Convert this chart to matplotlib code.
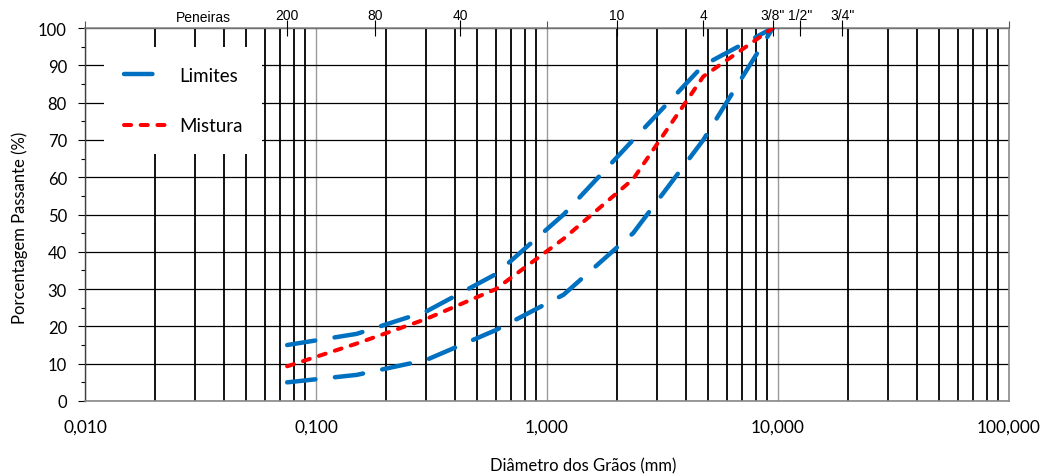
import matplotlib
matplotlib.use('Agg')
import matplotlib.pyplot as plt
from matplotlib.ticker import FixedLocator, NullFormatter, MultipleLocator
import matplotlib.transforms as mtransforms

# ---------------- data ----------------
diametro_mm = [0.075, 0.15, 0.3, 0.6, 1.18, 2.36, 4.75, 9.5]
limite_superior = [15, 18, 24, 34, 50, 70, 90, 100]
limite_inferior = [5, 7, 11, 19, 28.5, 45, 70, 100]
mistura = [9.3, 15.4, 22, 30, 43.5, 59.5, 87, 100]

peneiras_mm = [0.075, 0.18, 0.42, 2.0, 4.75, 9.5, 12.5, 19.0]
peneiras_labels = ['200', '80', '40', '10', '4', '3/8"', '1/2"', '3/4"']

x_ticks = [0.01, 0.1, 1, 10, 100]
x_tick_labels = ['0,010', '0,100', '1,000', '10,000', '100,000']
x_minor = [m * d for d in [0.01, 0.1, 1, 10] for m in range(2, 10)]
y_ticks = list(range(0, 101, 10))

BLUE = '#0070C0'
RED = '#FF0000'
CAL = ['Lato', 'DejaVu Sans']
ARIAL = ['Liberation Sans', 'DejaVu Sans']

fig = plt.figure(figsize=(10.48, 4.77), dpi=100)
ax = fig.add_axes([85/1048, 75/477, 924/1048, 373/477])
ax.set_xscale('log')
ax.set_xlim(0.01, 100)
ax.set_ylim(0, 100)

# grid
ax.xaxis.set_major_locator(FixedLocator(x_ticks))
ax.xaxis.set_minor_locator(FixedLocator(x_minor))
ax.xaxis.set_minor_formatter(NullFormatter())
ax.set_xticklabels(x_tick_labels, fontfamily=CAL, fontsize=12.5)
ax.set_yticks(y_ticks)
ax.yaxis.set_minor_locator(MultipleLocator(5))
ax.set_yticklabels([str(v) for v in y_ticks], fontfamily=CAL, fontsize=12)

ax.grid(True, which='major', axis='x', color='#9a9a9a', lw=1.0)
ax.grid(True, which='minor', axis='x', color='black', lw=1.3)
ax.grid(True, which='major', axis='y', color='black', lw=0.9)
ax.set_axisbelow(True)

ax.tick_params(axis='x', which='both', length=0, pad=13, colors='black')
ax.tick_params(axis='y', which='major', direction='out', length=5, width=0.8, pad=8, color='black')
ax.tick_params(axis='y', which='minor', direction='out', length=3, width=0.8, color='black')

for s in ['top', 'bottom', 'right']:
    ax.spines[s].set_color('#8a8a8a')
    ax.spines[s].set_linewidth(1.2)
ax.spines['left'].set_color('#404040')
ax.spines['left'].set_linewidth(1.0)

# curves
ax.plot(diametro_mm, limite_superior, color=BLUE, lw=3.2, dashes=(6.4, 4.4),
        dash_capstyle='round', solid_capstyle='round', label='Limites', zorder=5)
ax.plot(diametro_mm, limite_inferior, color=BLUE, lw=3.2, dashes=(6.4, 4.4),
        dash_capstyle='round', solid_capstyle='round', label='_nolegend_', zorder=5)
ax.plot(diametro_mm, mistura, color=RED, lw=2.9, dashes=(1.75, 2.4),
        dash_capstyle='round', label='Mistura', zorder=6)

leg = ax.legend(loc='upper left', bbox_to_anchor=(0.0206, 0.949), borderaxespad=0,
                frameon=True, facecolor='white', edgecolor='none', framealpha=1,
                fancybox=False, prop={'family': CAL, 'size': 13.5},
                handlelength=2.5, handletextpad=0.45, labelspacing=1.8, borderpad=1.05)
leg.set_zorder(10)

ax.set_xlabel('Diâmetro dos Grãos (mm)', fontfamily=CAL, fontsize=12)
ax.xaxis.set_label_coords(0.539, -0.152)
ax.set_ylabel('Porcentagem Passante (%)', fontfamily=CAL, fontsize=12)
ax.yaxis.set_label_coords(-0.0615, 0.466)

# top sieve axis
ax2 = ax.twiny()
ax2.set_xscale('log')
ax2.set_xlim(ax.get_xlim())
ax2.xaxis.set_major_locator(FixedLocator(peneiras_mm))
ax2.set_xticklabels(peneiras_labels, fontfamily=ARIAL, fontsize=10)
ax2.xaxis.set_minor_locator(FixedLocator([0.01, 1.0, 100]))
ax2.xaxis.set_minor_formatter(NullFormatter())
ax2.tick_params(axis='x', which='major', direction='inout', length=11, width=0.8,
                pad=-1, color='black')
ax2.tick_params(axis='x', which='minor', direction='out', length=5, width=0.8, color='#555555')
for s in ax2.spines.values():
    s.set_visible(False)

trans = mtransforms.blended_transform_factory(ax.transData, ax.transAxes)
ax.text(0.0327, 1.0295, 'Peneiras', transform=trans, ha='center', va='center',
        fontfamily=ARIAL, fontsize=10)

fig.savefig('out.png', dpi=100)
